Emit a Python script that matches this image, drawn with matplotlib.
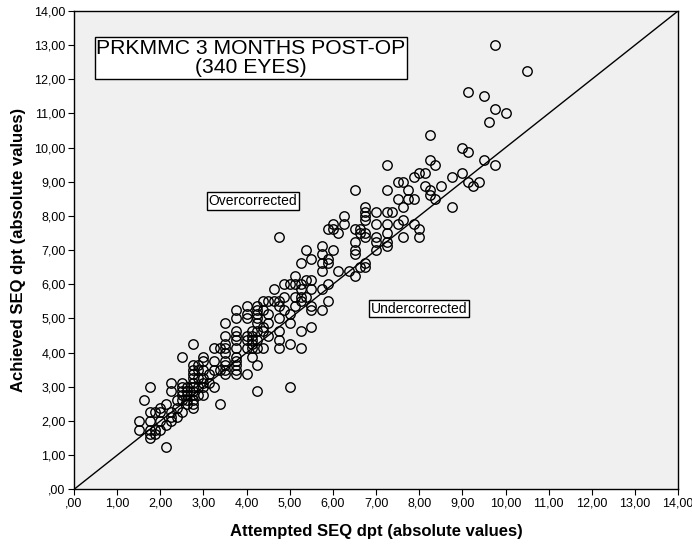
import numpy as np
import matplotlib
matplotlib.use("Agg")
import matplotlib.pyplot as plt

plt.rcParams['font.family'] = ['Liberation Sans', 'DejaVu Sans']

# attempted SEQ (x) -> list of achieved SEQ (y) values
columns = {
    1.500: [2.0, 1.75],
    1.625: [2.625],
    1.750: [3.0, 2.25, 2.0, 1.75, 1.625, 1.5],
    1.875: [2.25, 1.75, 1.625],
    2.000: [2.375, 2.25, 2.0, 1.75],
    2.125: [2.5, 1.875, 1.25],
    2.250: [3.125, 2.875, 2.25, 2.125, 2.0],
    2.375: [2.625, 2.375, 2.125],
    2.500: [3.875, 3.125, 3.0, 2.875, 2.75, 2.625, 2.25],
    2.625: [3.0, 2.875, 2.75, 2.625, 2.5],
    2.750: [4.25, 3.625, 3.5, 3.375, 3.25, 3.125, 3.0, 2.875, 2.75, 2.625, 2.5, 2.375],
    2.875: [3.625, 3.5, 3.25, 3.0, 2.75],
    3.000: [3.875, 3.75, 3.5, 3.25, 3.125, 3.0, 2.75],
    3.125: [3.375, 3.125],
    3.250: [4.125, 3.75, 3.5, 3.0],
    3.375: [4.125, 3.5, 2.5],
    3.500: [4.875, 4.5, 4.25, 4.125, 4.0, 3.75, 3.625, 3.5, 3.375],
    3.750: [5.25, 5.0, 4.625, 4.5, 4.375, 4.125, 3.875, 3.75, 3.625, 3.5, 3.375],
    4.000: [5.375, 5.125, 5.0, 4.5, 4.375, 4.125, 3.375],
    4.125: [4.625, 4.5, 4.375, 4.25, 4.125, 3.875],
    4.250: [5.375, 5.25, 5.125, 5.0, 4.875, 4.625, 4.375, 4.125, 3.625, 2.875],
    4.375: [5.5, 5.25, 4.75, 4.625, 4.125],
    4.500: [5.5, 5.125, 4.875, 4.5],
    4.625: [5.875, 5.5],
    4.750: [7.375, 5.5, 5.375, 5.0, 4.625, 4.375, 4.125],
    4.875: [6.0, 5.625, 5.25],
    5.000: [6.0, 5.125, 4.875, 4.25, 3.0],
    5.125: [6.25, 6.0, 5.625, 5.375],
    5.250: [6.625, 6.0, 5.875, 5.625, 5.5, 4.625, 4.125],
    5.375: [7.0, 6.125, 5.625],
    5.500: [6.75, 6.125, 5.875, 5.375, 5.25, 4.75],
    5.750: [7.125, 6.875, 6.625, 6.375, 5.875, 5.25],
    5.875: [7.625, 6.75, 6.625, 6.0, 5.5],
    6.000: [7.75, 7.625, 7.0],
    6.125: [7.5, 6.375],
    6.250: [8.0, 7.75],
    6.375: [6.375],
    6.500: [8.75, 7.625, 7.25, 7.0, 6.875, 6.25],
    6.625: [7.625, 7.5, 6.5],
    6.750: [8.25, 8.125, 8.0, 7.875, 7.5, 7.375, 6.625, 6.5],
    7.000: [8.125, 7.75, 7.375, 7.25, 7.0],
    7.250: [9.5, 8.75, 8.125, 7.75, 7.5, 7.25, 7.125],
    7.375: [8.125],
    7.500: [9.0, 8.5, 7.75],
    7.625: [9.0, 8.25, 7.875, 7.375],
    7.750: [8.75, 8.5],
    7.875: [9.125, 8.5, 7.75],
    8.000: [9.25, 7.625, 7.375],
    8.125: [9.25, 8.875],
    8.250: [10.375, 9.625, 8.75, 8.625],
    8.375: [9.5, 8.5],
    8.500: [8.875],
    8.750: [9.125, 8.25],
    9.000: [10.0, 9.25],
    9.125: [11.625, 9.875, 9.0],
    9.250: [8.875],
    9.375: [9.0],
    9.500: [11.5, 9.625],
    9.625: [10.75],
    9.750: [13.0, 11.125, 9.5],
    10.000: [11.0],
    10.500: [12.25],
}

attempted = []
achieved = []
for xv, ys in columns.items():
    for yv in ys:
        attempted.append(xv)
        achieved.append(yv)

tick_vals = np.arange(0, 15, 1)
tick_labels = [",00" if t == 0 else "%d,00" % t for t in tick_vals]

fig = plt.figure(figsize=(6.92, 5.44), dpi=100)
ax = fig.add_axes([0.107, 0.1005, 0.873, 0.8795])
ax.set_facecolor('#f0f0f0')

ax.plot(attempted, achieved, 'o', mfc='none', mec='black', ms=6.8, mew=1.0, zorder=3)
ax.plot([0, 14], [0, 14], '-', color='black', lw=1.0, zorder=2)

ax.set_xlim(0, 14)
ax.set_ylim(0, 14)
ax.set_xticks(tick_vals)
ax.set_yticks(tick_vals)
ax.set_xticklabels(tick_labels)
ax.set_yticklabels(tick_labels)
ax.tick_params(direction='out', length=4, width=0.8, labelsize=9, colors='black', pad=2)
for s in ax.spines.values():
    s.set_linewidth(1.0)

ax.set_xlabel("Attempted SEQ dpt (absolute values)", fontsize=12, fontweight='bold', labelpad=10)
ax.set_ylabel("Achieved SEQ dpt (absolute values)", fontsize=12, fontweight='bold', labelpad=6)

box = dict(boxstyle='square,pad=0.12', facecolor='white', edgecolor='black', lw=1.0)
ax.text(4.10, 12.62, "PRKMMC 3 MONTHS POST-OP\n(340 EYES)", ha='center', va='center',
        fontsize=15.2, linespacing=1.0,
        bbox=dict(boxstyle='square,pad=0.08', facecolor='white', edgecolor='black', lw=1.0))
ax.text(4.14, 8.44, "Overcorrected", ha='center', va='center', fontsize=10, bbox=box)
ax.text(8.0, 5.29, "Undercorrected", ha='center', va='center', fontsize=10, bbox=box)

plt.savefig('out.png', dpi=100)
